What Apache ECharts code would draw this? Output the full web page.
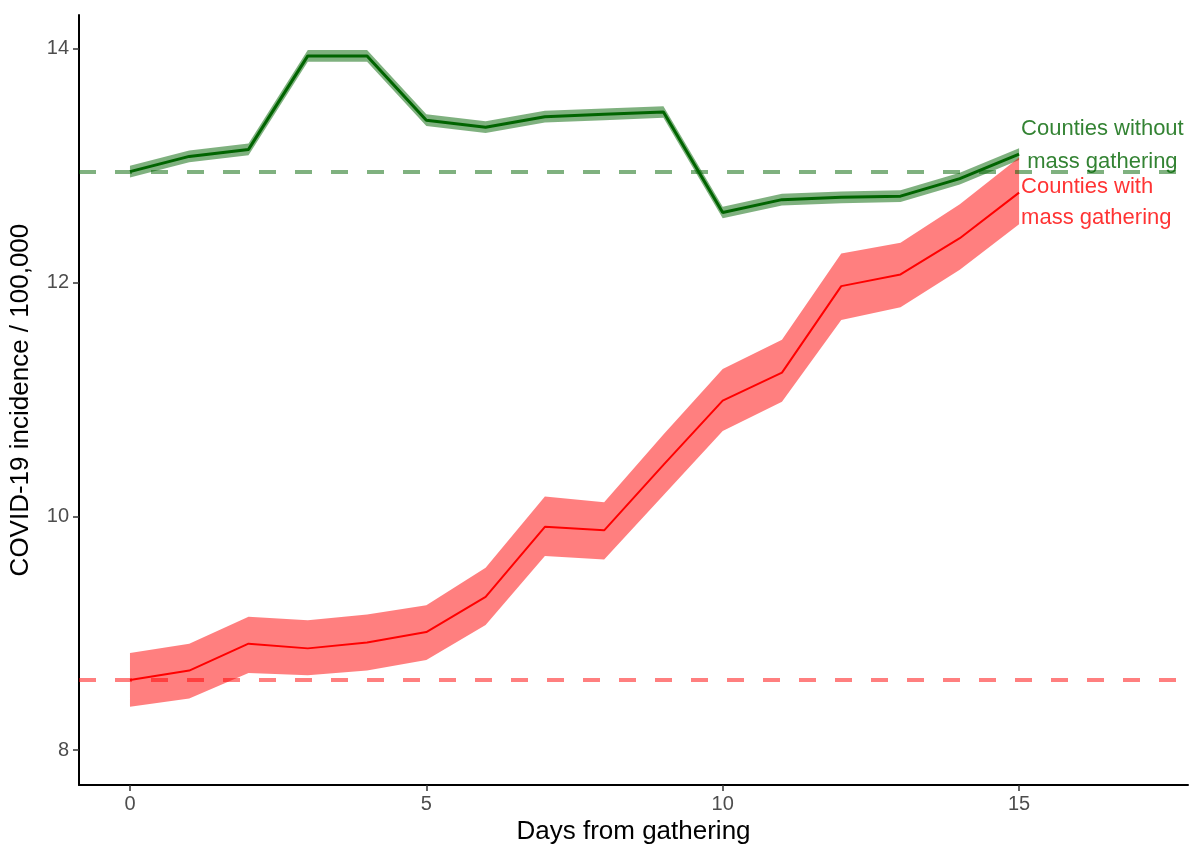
<!DOCTYPE html>
<html>
<head>
<meta charset="utf-8">
<script src="https://cdn.jsdelivr.net/npm/echarts@6/dist/echarts.min.js"></script>
<style>
html,body{margin:0;padding:0;background:#fff;}
#chart{width:1190px;height:850px;}
</style>
</head>
<body>
<div id="chart"></div>
<script>
// ---- data ----
const days = [0,1,2,3,4,5,6,7,8,9,10,11,12,13,14,15];

const withoutMean  = [12.95,13.08,13.14,13.94,13.94,13.39,13.33,13.42,13.44,13.46,12.60,12.71,12.73,12.74,12.89,13.10];
const withoutLower = [12.90,13.03,13.09,13.89,13.89,13.34,13.28,13.37,13.39,13.41,12.55,12.66,12.68,12.69,12.84,13.05];
const withoutUpper = [13.00,13.13,13.19,13.99,13.99,13.44,13.38,13.47,13.49,13.51,12.65,12.76,12.78,12.79,12.94,13.15];

const withMean  = [8.60,8.68,8.91,8.87,8.92,9.01,9.31,9.91,9.88,10.44,10.99,11.23,11.97,12.07,12.38,12.77];
const withLower = [8.37,8.44,8.66,8.64,8.68,8.77,9.07,9.66,9.63,10.18,10.73,10.98,11.68,11.79,12.11,12.50];
const withUpper = [8.83,8.91,9.14,9.11,9.16,9.24,9.56,10.17,10.12,10.70,11.26,11.51,12.25,12.34,12.67,13.07];

const baselineWithout = 12.95;
const baselineWith = 8.60;

const xTicks = [0,5,10,15];
const yTicks = [8,10,12,14];

const labelWithout = 'Counties without\n mass gathering';
const labelWith = 'Counties with\nmass gathering';

// ---- build ----
const pairs = (ys) => days.map((d,i) => [d, ys[i]]);
const bandRows = (lo, hi) => days.map((d,i) => [d, lo[i], hi[i]]);

const FONT = "'Liberation Sans', Arial, sans-serif";
const GREEN = '#006400';
const GREEN_A = 'rgba(0,100,0,0.5)';
const RED = '#ff0000';
const RED_A = 'rgba(255,0,0,0.5)';

function bandSeries(rows, color) {
  return {
    type: 'custom',
    silent: true,
    z: 1,
    data: rows,
    encode: {x: 0, y: [1, 2]},
    renderItem: function (params, api) {
      if (params.dataIndex !== 0) return null;
      const top = rows.map(r => api.coord([r[0], r[2]]));
      const bottom = rows.map(r => api.coord([r[0], r[1]])).reverse();
      return {
        type: 'polygon',
        shape: {points: top.concat(bottom)},
        style: {fill: color, stroke: null}
      };
    }
  };
}

const chart = echarts.init(document.getElementById('chart'), null, {renderer:'canvas'});

const option = {
  animation: false,
  backgroundColor: '#ffffff',
  textStyle: {fontFamily: FONT},
  grid: {left: 79, right: 2, top: 15, bottom: 64, containLabel: false},
  xAxis: {
    type: 'value',
    min: -0.86, max: 17.85,
    name: 'Days from gathering',
    nameLocation: 'middle',
    nameGap: 33,
    nameTextStyle: {fontSize: 26, color: '#000', fontFamily: FONT},
    axisLine: {show: true, onZero: false, lineStyle: {color: '#000', width: 2}},
    axisTick: {show: true, length: 6, customValues: xTicks, lineStyle: {color: '#333', width: 1.5}},
    axisLabel: {customValues: xTicks, fontSize: 20, color: '#4d4d4d', margin: 9, fontFamily: FONT},
    splitLine: {show: false}
  },
  yAxis: {
    type: 'value',
    min: 7.70, max: 14.29,
    name: 'COVID-19 incidence / 100,000',
    nameLocation: 'middle',
    nameGap: 45,
    nameRotate: 90,
    nameTextStyle: {fontSize: 26, color: '#000', fontFamily: FONT},
    axisLine: {show: true, onZero: false, lineStyle: {color: '#000', width: 2}},
    axisTick: {show: true, length: 6, customValues: yTicks, lineStyle: {color: '#333', width: 1.5}},
    axisLabel: {customValues: yTicks, fontSize: 20, color: '#4d4d4d', margin: 10, fontFamily: FONT},
    splitLine: {show: false}
  },
  series: [
    bandSeries(bandRows(withoutLower, withoutUpper), GREEN_A),
    bandSeries(bandRows(withLower, withUpper), RED_A),
    {
      type: 'line', name: 'Counties without mass gathering', data: pairs(withoutMean),
      symbol: 'none', lineStyle: {color: GREEN, width: 3}, z: 3,
      markLine: {
        silent: true, symbol: 'none', label: {show: false},
        lineStyle: {color: GREEN_A, width: 4, type: [17, 19]},
        data: [{yAxis: baselineWithout}]
      }
    },
    {
      type: 'line', name: 'Counties with mass gathering', data: pairs(withMean),
      symbol: 'none', lineStyle: {color: RED, width: 2}, z: 3,
      markLine: {
        silent: true, symbol: 'none', label: {show: false},
        lineStyle: {color: RED_A, width: 4, type: [17, 19]},
        data: [{yAxis: baselineWith}]
      }
    },
    {
      type: 'scatter', symbolSize: 0, silent: true, z: 5,
      data: [[days[days.length-1], withoutMean[withoutMean.length-1]]],
      label: {
        show: true, position: 'right', distance: 2, offset: [0, -9],
        formatter: labelWithout, color: GREEN, fontSize: 22, lineHeight: 33,
        align: 'left', fontFamily: FONT
      }
    },
    {
      type: 'scatter', symbolSize: 0, silent: true, z: 5,
      data: [[days[days.length-1], withMean[withMean.length-1]]],
      label: {
        show: true, position: 'right', distance: 2, offset: [0, 10],
        formatter: labelWith, color: RED, fontSize: 22, lineHeight: 31,
        align: 'left', fontFamily: FONT
      }
    }
  ]
};
chart.setOption(option);
</script>
</body>
</html>
